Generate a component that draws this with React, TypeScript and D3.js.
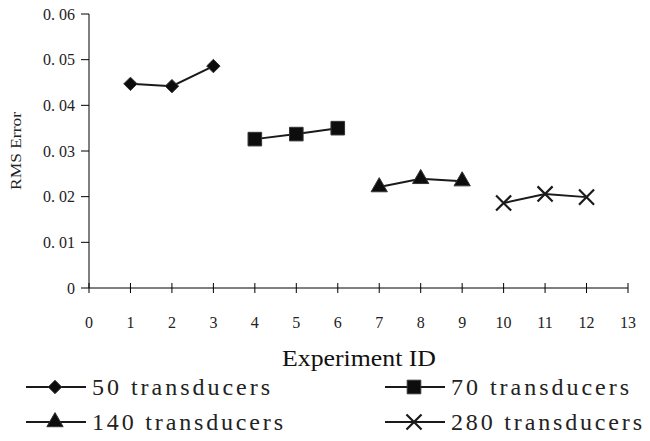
import React, { useEffect, useRef } from "react";
import * as d3 from "d3";

const experimentIds = [1, 2, 3, 4, 5, 6, 7, 8, 9, 10, 11, 12];
const seriesNames = ["50 transducers", "70 transducers", "140 transducers", "280 transducers"];
const series50 = [0.0447, 0.0442, 0.0486];
const series70 = [0.0326, 0.0337, 0.035];
const series140 = [0.0221, 0.0239, 0.0234];
const series280 = [0.0186, 0.0206, 0.0199];
const yTicks = [0, 0.01, 0.02, 0.03, 0.04, 0.05, 0.06];
const yTickLabels = ["0", "0. 01", "0. 02", "0. 03", "0. 04", "0. 05", "0. 06"];
const xTicks = d3.range(0, 14);

const App = () => {
  const svgRef = useRef<SVGSVGElement>(null);

  useEffect(() => {
    const svg = d3.select(svgRef.current);
    svg.selectAll("*").remove();
    const width = 650;
    const height = 441;
    const margin = { top: 14, left: 89, right: 22, bottom: 153 };
    const serif = "'Liberation Serif', serif";

    const x = d3.scaleLinear().domain([0, 13]).range([margin.left, width - margin.right]);
    const y = d3.scaleLinear().domain([0, 0.06]).range([height - margin.bottom, margin.top]);

    const g = svg.append("g");

    // y axis
    g.append("line")
      .attr("x1", x(0)).attr("x2", x(0))
      .attr("y1", y(0.06)).attr("y2", y(0))
      .attr("stroke", "#000").attr("stroke-width", 1);
    yTicks.forEach((t, i) => {
      g.append("line")
        .attr("x1", x(0) - 8).attr("x2", x(0))
        .attr("y1", y(t)).attr("y2", y(t))
        .attr("stroke", "#000");
      g.append("text")
        .attr("x", x(0) - 14).attr("y", y(t))
        .attr("dy", "0.35em")
        .attr("text-anchor", "end")
        .attr("font-family", serif)
        .attr("font-size", 16)
        .attr("fill", "#222")
        .text(yTickLabels[i]);
    });

    // x axis
    g.append("line")
      .attr("x1", x(0)).attr("x2", x(13))
      .attr("y1", y(0)).attr("y2", y(0))
      .attr("stroke", "#000");
    xTicks.forEach((t) => {
      g.append("line")
        .attr("x1", x(t)).attr("x2", x(t))
        .attr("y1", y(0) - 5).attr("y2", y(0) + 5)
        .attr("stroke", "#000");
      g.append("text")
        .attr("x", x(t)).attr("y", y(0) + 34)
        .attr("dy", "0.35em")
        .attr("text-anchor", "middle")
        .attr("font-family", serif)
        .attr("font-size", 16)
        .attr("fill", "#222")
        .text(t);
    });

    // axis titles
    g.append("text")
      .attr("transform", `translate(16, ${(y(0) + y(0.06)) / 2}) rotate(-90)`)
      .attr("dy", "0.35em")
      .attr("text-anchor", "middle")
      .attr("font-family", serif)
      .attr("font-size", 15)
      .attr("fill", "#222")
      .attr("textLength", 78)
      .attr("lengthAdjust", "spacingAndGlyphs")
      .text("RMS Error");
    g.append("text")
      .attr("x", 359).attr("y", 358)
      .attr("dy", "0.35em")
      .attr("text-anchor", "middle")
      .attr("font-family", serif)
      .attr("font-size", 24)
      .attr("fill", "#111")
      .attr("textLength", 154)
      .attr("lengthAdjust", "spacingAndGlyphs")
      .text("Experiment ID");

    // markers
    const diamond = d3.symbol().type(d3.symbolDiamond2).size(115);
    const square = d3.symbol().type(d3.symbolSquare).size(185);
    const triangle = d3.symbol().type(d3.symbolTriangle).size(115);
    const cross = d3.symbol().type(d3.symbolX).size(150);
    const marks = [diamond, square, triangle, cross];
    const allSeries = [series50, series70, series140, series280];
    const line = d3.line<[number, number]>().x((d) => x(d[0])).y((d) => y(d[1]));

    const drawMark = (si: number, cx: number, cy: number) => {
      const m = g.append("path")
        .attr("transform", `translate(${cx}, ${cy})`)
        .attr("d", marks[si]());
      if (si === 3) m.attr("fill", "none").attr("stroke", "#1a1a1a").attr("stroke-width", 2.2);
      else m.attr("fill", "#0d0d0d").attr("stroke", "#333").attr("stroke-width", 1);
    };

    allSeries.forEach((vals, si) => {
      const pts: [number, number][] = vals.map((v, i) => [experimentIds[si * 3 + i], v]);
      g.append("path")
        .attr("d", line(pts))
        .attr("fill", "none")
        .attr("stroke", "#1a1a1a")
        .attr("stroke-width", 2);
      pts.forEach((p) => drawMark(si, x(p[0]), y(p[1])));
    });

    // legend
    const legendPos = [
      { lx: 26, ly: 387 },
      { lx: 385, ly: 387 },
      { lx: 26, ly: 422 },
      { lx: 385, ly: 422 },
    ];
    seriesNames.forEach((name, si) => {
      const { lx, ly } = legendPos[si];
      g.append("line")
        .attr("x1", lx).attr("x2", lx + 60)
        .attr("y1", ly).attr("y2", ly)
        .attr("stroke", "#1a1a1a").attr("stroke-width", 2);
      drawMark(si, lx + 29, ly);
      g.append("text")
        .attr("x", lx + 66).attr("y", ly)
        .attr("dy", "0.35em")
        .attr("font-family", serif)
        .attr("font-size", 24)
        .attr("fill", "#222")
        .attr("textLength", name.length * 13 - 4)
        .attr("lengthAdjust", "spacing")
        .text(name);
    });
  }, []);

  return (
    <svg
      ref={svgRef}
      width={650}
      height={441}
      style={{ position: "absolute", left: 0, top: 0, background: "#fff" }}
    />
  );
};

export default App;
